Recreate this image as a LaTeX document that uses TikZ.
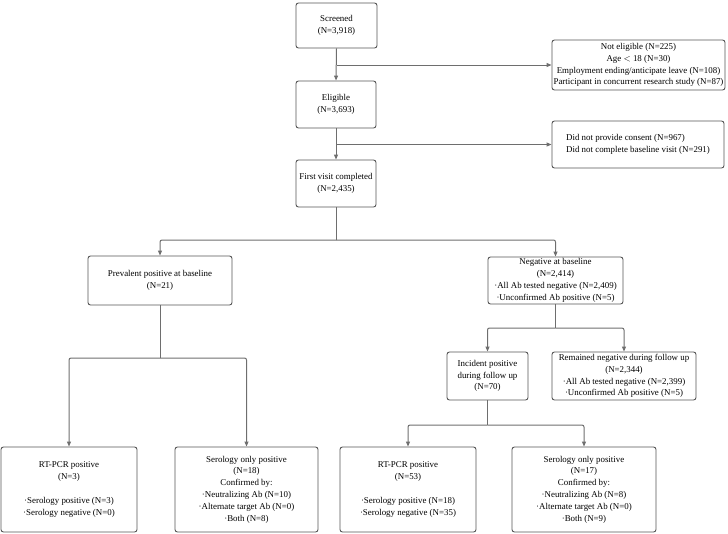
\documentclass[tikz,border=0pt]{standalone}
\usepackage{fontspec}
\setmainfont{Liberation Serif}
\usetikzlibrary{arrows.meta}
\definecolor{edge}{HTML}{555555}
\definecolor{wire}{HTML}{6E6E6E}
\tikzset{
  box/.style={draw=edge, line width=0.9pt, rounded corners=2.5pt, fill=white,
    align=center, inner sep=0pt, font=\fontsize{8.9}{11.8}\selectfont},
  wline/.style={draw=wire, line width=1pt, rounded corners=2pt},
  arr/.style={wline, -{Triangle[length=5pt,width=4pt]}},
}
\begin{document}
\begin{tikzpicture}[x=1pt,y=-1pt]
\useasboundingbox (0,0) rectangle (728,533);
% top column
\node[box, minimum width=81pt, minimum height=45pt] (screened) at (336.5,25.5) {Screened\\(N=3,918)};
\node[box, minimum width=173pt, minimum height=50pt] (noteleg) at (638.5,65) {Not eligible (N=225)\\Age $<$ 18 (N=30)\\Employment ending/anticipate leave (N=108)\\Participant in concurrent research study (N=87)};
\node[box, minimum width=80pt, minimum height=47pt] (eligible) at (336,104.5) {Eligible\\(N=3,693)};
\node[box, minimum width=172pt, minimum height=47pt] (consent) at (638,144.5) {\begin{tabular}{@{}l@{}}Did not provide consent (N=967)\\Did not complete baseline visit (N=291)\end{tabular}};
\node[box, minimum width=80pt, minimum height=47pt] (first) at (336,183.5) {First visit completed\\(N=2,435)};
% second level
\node[box, minimum width=144pt, minimum height=49pt] (prev) at (160,280.5) {Prevalent positive at baseline\\(N=21)};
\node[box, minimum width=135pt, minimum height=47pt] (neg) at (555.5,280.5) {Negative at baseline\\(N=2,414)\\·All Ab tested negative (N=2,409)\\·Unconfirmed Ab positive (N=5)};
% third level
\node[box, minimum width=81pt, minimum height=48pt] (inc) at (487.5,376) {Incident positive\\during follow up\\(N=70)};
\node[box, minimum width=144pt, minimum height=48pt] (rem) at (624,376) {Remained negative during follow up\\(N=2,344)\\·All Ab tested negative (N=2,399)\\·Unconfirmed Ab positive (N=5)};
% bottom level
\node[box, minimum width=136pt, minimum height=85pt] (rtA) at (69,489.5) {RT-PCR positive\\(N=3)\\[11.8pt]·Serology positive (N=3)\\·Serology negative (N=0)};
\node[box, minimum width=143pt, minimum height=85pt] (serA) at (246.5,489.5) {Serology only positive\\(N=18)\\Confirmed by:\\·Neutralizing Ab (N=10)\\·Alternate target Ab (N=0)\\·Both (N=8)};
\node[box, minimum width=136pt, minimum height=85pt] (rtB) at (408,489.5) {RT-PCR positive\\(N=53)\\[11.8pt]·Serology positive (N=18)\\·Serology negative (N=35)};
\node[box, minimum width=144pt, minimum height=85pt] (serB) at (584,489.5) {Serology only positive\\(N=17)\\Confirmed by:\\·Neutralizing Ab (N=8)\\·Alternate target Ab (N=0)\\·Both (N=9)};
% connectors
\draw[arr] (screened.south) -- (eligible.north);
\draw[arr] (screened.south |- noteleg.west) -- (noteleg.west);
\draw[arr] (eligible.south) -- (first.north);
\draw[arr] (eligible.south |- consent.west) -- (consent.west);
\coordinate (j1) at (336,240);
\draw[wline] (first.south) -- (j1);
\draw[arr] (j1) -| (prev.north);
\draw[arr] (j1) -| (neg.north);
\coordinate (j2) at (555.5,328);
\draw[wline] (neg.south) -- (j2);
\draw[arr] (j2) -| (inc.north);
\draw[arr] (j2) -| (rem.north);
\coordinate (j3) at (160,358);
\draw[wline] (prev.south) -- (j3);
\draw[arr] (j3) -| (rtA.north);
\draw[arr] (j3) -| (serA.north);
\coordinate (j4) at (487.5,425);
\draw[wline] (inc.south) -- (j4);
\draw[arr] (j4) -| (rtB.north);
\draw[arr] (j4) -| (serB.north);
\end{tikzpicture}
\end{document}
